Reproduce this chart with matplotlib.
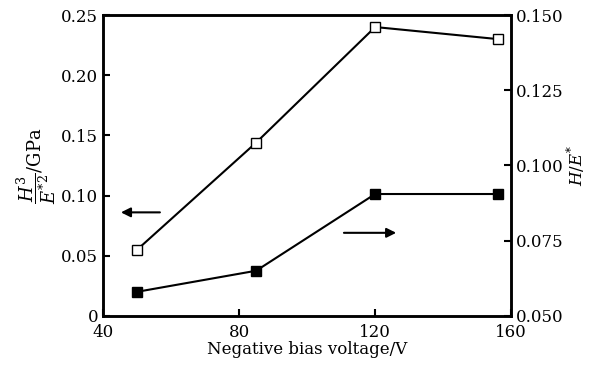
import matplotlib
matplotlib.use("Agg")
import matplotlib.pyplot as plt

# Data
bias_voltage = [50, 85, 120, 156]
h3_e2 = [0.055, 0.144, 0.240, 0.230]      # left axis, GPa
h_e = [0.058, 0.065, 0.0905, 0.0905]      # right axis

plt.rcParams["font.family"] = "DejaVu Serif"
plt.rcParams["mathtext.fontset"] = "dejavuserif"

fig = plt.figure(figsize=(5.93, 3.66), dpi=100)
ax = fig.add_axes([0.174, 0.137, 0.688, 0.822])
ax2 = ax.twinx()

ax.plot(bias_voltage, h3_e2, color="black", lw=1.5, marker="s", ms=7,
        mfc="white", mec="black", mew=1.0, zorder=3)
ax2.plot(bias_voltage, h_e, color="black", lw=1.5, marker="s", ms=7,
         mfc="black", mec="black", zorder=3)

ax.set_xlim(40, 160)
ax.set_ylim(0, 0.25)
ax2.set_ylim(0.05, 0.15)
ax.set_xticks([40, 80, 120, 160])
ax.set_yticks([0, 0.05, 0.10, 0.15, 0.20, 0.25])
ax.set_yticklabels(["0", "0.05", "0.10", "0.15", "0.20", "0.25"])
ax2.set_yticks([0.050, 0.075, 0.100, 0.125, 0.150])
ax2.set_yticklabels(["0.050", "0.075", "0.100", "0.125", "0.150"])

for a in (ax, ax2):
    a.tick_params(direction="in", length=5, width=1.5, labelsize=12)
    for s in a.spines.values():
        s.set_linewidth(1.8)
ax.tick_params(axis="y", right=False)
ax.tick_params(axis="x", pad=6)

ax.set_xlabel("Negative bias voltage/V", fontsize=12, labelpad=0)
ax.set_ylabel(r"$\dfrac{H^3}{E^{*2}}$/GPa", fontsize=13, labelpad=2)
ax2.set_ylabel(r"$H/E^{*}$", fontsize=12, rotation=90, labelpad=1)

# direction arrows
ax.annotate("", xy=(44.4, 0.086), xytext=(57.5, 0.086),
            arrowprops=dict(arrowstyle="-|>", color="black", lw=1.5,
                            mutation_scale=14))
ax.annotate("", xy=(127, 0.069), xytext=(110, 0.069),
            arrowprops=dict(arrowstyle="-|>", color="black", lw=1.5,
                            mutation_scale=14))

fig.savefig("out.png", dpi=100)
